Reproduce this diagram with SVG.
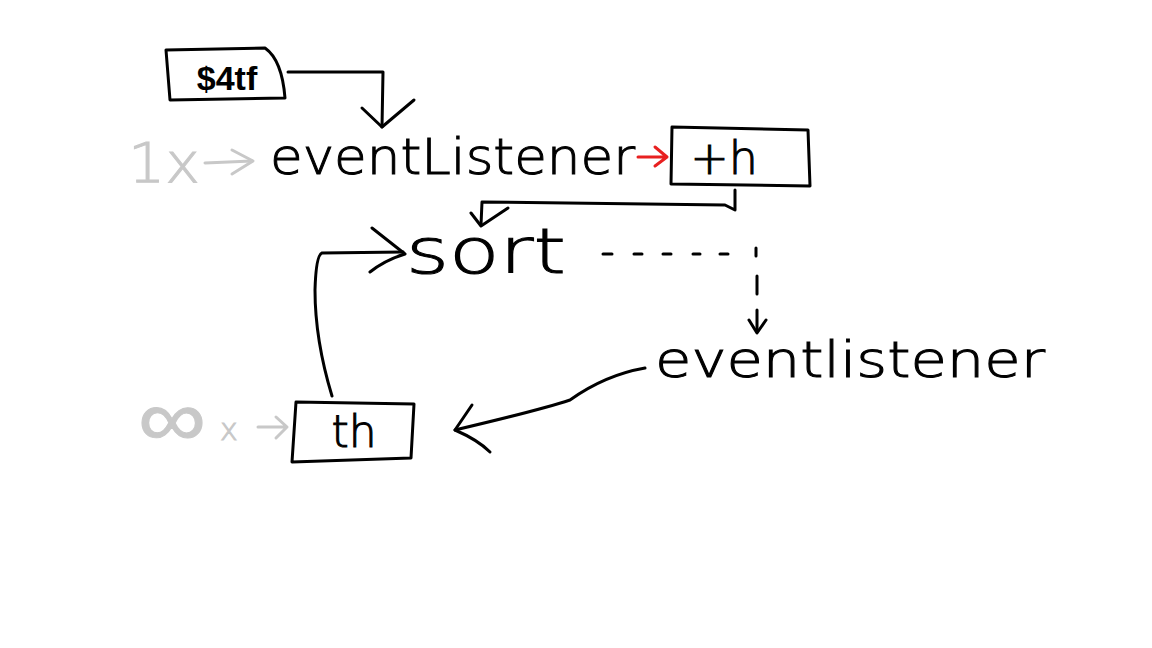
<svg xmlns="http://www.w3.org/2000/svg" width="1152" height="648" viewBox="0 0 1152 648">
<style>
.ln{fill:none;stroke:#000;stroke-width:3;stroke-linecap:round;stroke-linejoin:round}
.gl{fill:none;stroke:#c8c8c8;stroke-width:3;stroke-linecap:round;stroke-linejoin:round}
.t{font-family:"DejaVu Sans","Liberation Sans",Arial,sans-serif;font-weight:200;fill:#000;stroke:#000;stroke-width:1}
.g{font-family:"DejaVu Sans","Liberation Sans",Arial,sans-serif;font-weight:200;fill:#c8c8c8;stroke:#c8c8c8;stroke-width:1}
</style>
<rect width="1152" height="648" fill="#fff"/>
<g id="node-dollar">
<path class="ln" d="M166,50 L265,48 Q282,60 285,98 L170,100 Z"/>
<text x="227" y="90" font-size="34" text-anchor="middle" font-family="Liberation Sans,Arial,sans-serif" font-weight="bold">$4tf</text>
</g>
<g id="node-eventListener1">
<text class="g" x="128" y="182" font-size="56" textLength="72" lengthAdjust="spacingAndGlyphs">1x</text>
<text class="t" x="270" y="174" font-size="50" textLength="365" lengthAdjust="spacingAndGlyphs">eventListener</text>
</g>
<g id="node-th1">
<path class="ln" d="M672,127 L808,130 L810,186 L671,184 Z"/>
<text class="t" x="724" y="174" font-size="46" text-anchor="middle">+h</text>
</g>
<g id="node-sort">
<text class="t" x="406" y="273" font-size="62" textLength="160" lengthAdjust="spacingAndGlyphs">sort</text>
</g>
<g id="node-eventListener2">
<text class="t" x="655" y="377" font-size="50" textLength="390" lengthAdjust="spacingAndGlyphs">eventlistener</text>
</g>
<g id="node-th2">
<text class="g" x="138" y="446" font-size="80" textLength="68" lengthAdjust="spacingAndGlyphs">∞</text>
<text class="g" x="220" y="440" font-size="30">x</text>
<path class="ln" d="M296,402 L414,404 L411,458 L292,462 Z"/>
<text class="t" x="354" y="447" font-size="44" text-anchor="middle">th</text>
</g>
<g id="connectors">
<path class="ln" d="M288,72 L383,72 L382,127"/>
<path class="ln" d="M362,108 L382,127 L414,100"/>
<path class="gl" d="M205,163 L252,161"/>
<path class="gl" d="M232,150 L253,161 L232,174"/>
<path fill="none" stroke="#e82020" stroke-width="3" stroke-linecap="round" stroke-linejoin="round" d="M638,157 L667,157 M655,147 L667,157 L655,166"/>
<path class="ln" d="M735,190 L735,210 L725,205 L482,202 L481,225"/>
<path class="ln" d="M471,213 L481,226 L508,208"/>
<path class="ln" d="M603,254 L612,254 M634,254 L642,254 M663,254 L671,254 M693,254 L700,254 M720,254 L728,254"/>
<path class="ln" d="M756,248 L756,256 M757,276 L757,294 M757,310 L757,330"/>
<path class="ln" d="M749,320 L757,333 L766,320"/>
<path class="ln" d="M645,368 Q605,375 570,400 Q540,410 455,430"/>
<path class="ln" d="M472,405 L455,430 Q478,440 490,452"/>
<path class="ln" d="M332,396 Q315,340 315,290 Q316,255 322,253 L403,252"/>
<path class="ln" d="M372,228 L405,254 Q385,260 370,272"/>
<path class="gl" d="M258,427 L287,427 M276,417 L287,427 L276,438"/>
</g>
</svg>
